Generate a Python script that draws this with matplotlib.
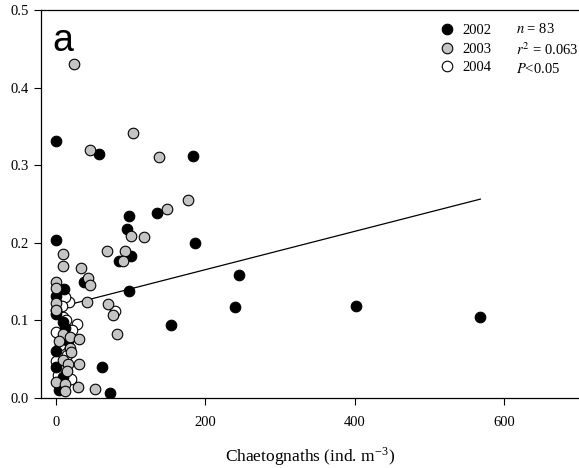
import numpy as np
import matplotlib
matplotlib.use("Agg")
import matplotlib.pyplot as plt
from matplotlib.lines import Line2D

plt.rcParams['font.family'] = ['Liberation Serif', 'DejaVu Serif']
plt.rcParams['mathtext.fontset'] = 'stix'

# chaetognath density (ind. m-3) vs y value, by year
x2002 = [0, 58, 183, 0, 98, 135, 95, 186, 100, 84, 38, 98, 11, 0, 0, 10,
         245, 240, 401, 568, 154, 0, 0, 61, 73, 9, 4, 16, 0, 12]
y2002 = [0.331, 0.315, 0.312, 0.204, 0.235, 0.238, 0.218, 0.200, 0.183, 0.176,
         0.149, 0.138, 0.140, 0.131, 0.108, 0.098, 0.159, 0.117, 0.119, 0.105,
         0.094, 0.060, 0.040, 0.040, 0.006, 0.027, 0.010, 0.074, 0.113, 0.090]

x2003 = [24, 46, 103, 138, 177, 148, 100, 118, 68, 93, 90, 10, 10, 34, 43, 45,
         0, 0, 0, 42, 69, 77, 82, 0, 9, 4, 19, 31, 19, 20, 10, 16, 31, 15, 0,
         12, 30, 52, 12]
y2003 = [0.431, 0.320, 0.342, 0.311, 0.255, 0.244, 0.209, 0.207, 0.190, 0.190,
         0.176, 0.186, 0.170, 0.168, 0.155, 0.145, 0.150, 0.142, 0.122, 0.124,
         0.121, 0.107, 0.083, 0.114, 0.082, 0.074, 0.079, 0.076, 0.065, 0.059,
         0.049, 0.044, 0.044, 0.035, 0.021, 0.018, 0.014, 0.012, 0.009]

x2004 = [18, 79, 10, 28, 0, 20, 12, 5, 0, 15, 8, 22, 3, 14]
y2004 = [0.124, 0.112, 0.105, 0.095, 0.048, 0.025, 0.130, 0.068, 0.085, 0.055,
         0.118, 0.088, 0.030, 0.100]

# linear regression, all years pooled
fit_intercept = 0.116
fit_slope = 0.000247
fit_x = [0, 568]

fig = plt.figure(figsize=(5.79, 4.68), dpi=100)
ax = fig.add_axes([41 / 579, 70 / 468, 538 / 579, 388 / 468])

fx = np.array(fit_x)
ax.plot(fx, fit_intercept + fit_slope * fx, color='black', lw=0.9, zorder=1)

ms = 58
ax.scatter(x2002, y2002, s=ms, c='black', edgecolors='black', linewidths=0.8, zorder=3)
ax.scatter(x2003, y2003, s=ms, c='#c4c4c4', edgecolors='black', linewidths=0.8, zorder=3)
ax.scatter(x2004, y2004, s=ms, c='white', edgecolors='black', linewidths=0.8, zorder=2)

ax.set_xlim(-20, 700)
ax.set_ylim(0, 0.5)
ax.set_xticks([0, 200, 400, 600])
ax.set_yticks([0.0, 0.1, 0.2, 0.3, 0.4, 0.5])
ax.set_yticklabels(['0.0', '0.1', '0.2', '0.3', '0.4', '0.5'])
ax.tick_params(direction='out', length=5, width=0.8, labelsize=10.5, top=False, right=False)
ax.tick_params(axis='x', pad=8)
ax.spines['right'].set_visible(False)
for s in ['left', 'bottom', 'top']:
    ax.spines[s].set_linewidth(0.9)

ax.set_xlabel(r'Chaetognaths (ind. m$^{\mathregular{-3}}$)', fontsize=12.5, labelpad=12)

ax.text(0.022, 0.895, 'a', transform=ax.transAxes, fontsize=27,
        family='Liberation Sans')

handles = [
    Line2D([], [], marker='o', ls='', ms=7.6, mfc='black', mec='black', mew=0.8),
    Line2D([], [], marker='o', ls='', ms=7.6, mfc='#c4c4c4', mec='black', mew=0.8),
    Line2D([], [], marker='o', ls='', ms=7.6, mfc='white', mec='black', mew=0.8),
]
ax.legend(handles, ['2002', '2003', '2004'], loc='upper left',
          bbox_to_anchor=(0.72, 0.99), frameon=False, fontsize=10.5,
          handletextpad=0.4, labelspacing=0.35, borderpad=0.2, handlelength=1.2)

ax.text(0.882, 0.968, r'$n$ = 83' + '\n' + r'$r^2$ = 0.063' + '\n' + r'$P$<0.05',
        transform=ax.transAxes, fontsize=10.5, va='top', linespacing=1.35)

fig.savefig('out.png', dpi=100)
